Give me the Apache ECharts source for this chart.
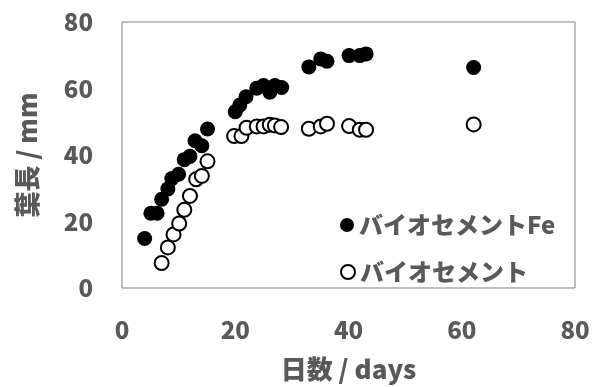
<!DOCTYPE html>
<html><head><meta charset="utf-8">
<script src="https://cdn.jsdelivr.net/npm/echarts@6/dist/echarts.min.js"></script>
<style>html,body{margin:0;padding:0;background:#fff}#c{width:598px;height:387px}</style>
</head><body><div id="c"></div>
<script>
const feDays = [4.0, 5.1, 6.2, 7.0, 8.1, 8.8, 10.0, 11.0, 12.0, 12.9, 14.1, 15.1, 20.0, 20.8, 21.9, 23.8, 25.0, 26.1, 27.0, 28.2, 33.0, 35.1, 36.2, 40.1, 42.0, 43.1, 62.1];
const feLen  = [14.9, 22.5, 22.5, 26.7, 29.8, 32.9, 34.2, 38.6, 39.6, 44.3, 42.8, 47.8, 53.0, 55.0, 57.5, 60.1, 60.9, 58.9, 60.9, 60.3, 66.5, 68.9, 68.2, 69.9, 69.9, 70.4, 66.3];
const bioDays = [7.0, 8.1, 9.1, 10.1, 11.0, 12.0, 13.1, 14.1, 15.1, 19.8, 21.1, 22.0, 23.8, 25.0, 26.1, 27.0, 28.1, 33.0, 35.1, 36.2, 40.1, 42.0, 43.1, 62.1];
const bioLen  = [7.5, 12.2, 16.1, 19.4, 23.5, 27.7, 32.7, 33.7, 38.1, 45.7, 45.7, 48.2, 48.6, 48.6, 49.1, 48.9, 48.4, 47.9, 48.6, 49.4, 48.7, 47.6, 47.6, 49.2];
const seriesNames = ['バイオセメントFe', 'バイオセメント'];
const xTitle = '日数 / days';
const yTitle = '葉長 / mm';

const pair = (xs, ys) => xs.map((x, i) => [x, ys[i]]);
const FONT = '"Noto Sans CJK JP", "Noto Sans", sans-serif';
const TXT = '#595959';
const W = 900;

const chart = echarts.init(document.getElementById('c'), null, {renderer: 'canvas'});
chart.setOption({
  animation: false,
  backgroundColor: '#fff',
  textStyle: {fontFamily: FONT},
  grid: {left: 122, right: 23, top: 22, bottom: 92, show: true, borderColor: '#808080', borderWidth: 1, backgroundColor: 'transparent'},
  xAxis: {
    type: 'value', min: 0, max: 80, interval: 20,
    name: xTitle, nameLocation: 'middle', nameGap: 68,
    nameTextStyle: {fontSize: 26, fontWeight: W, color: TXT, fontFamily: FONT},
    axisLine: {show: false}, axisTick: {show: false}, splitLine: {show: false},
    axisLabel: {fontSize: 24, fontWeight: W, color: TXT, margin: 30, fontFamily: FONT}
  },
  yAxis: {
    type: 'value', min: 0, max: 80, interval: 20,
    name: yTitle, nameLocation: 'middle', nameGap: 82, nameRotate: 90,
    nameTextStyle: {fontSize: 26, fontWeight: W, color: TXT, fontFamily: FONT},
    axisLine: {show: false}, axisTick: {show: false}, splitLine: {show: false},
    axisLabel: {fontSize: 24, fontWeight: W, color: TXT, margin: 29, fontFamily: FONT}
  },
  legend: [
    {data: [seriesNames[0]], left: 335, top: 208, itemWidth: 14, itemHeight: 14, itemGap: 4,
     textStyle: {fontSize: 24, fontWeight: W, color: TXT, fontFamily: FONT}},
    {data: [seriesNames[1]], left: 335, top: 255, itemWidth: 14, itemHeight: 14, itemGap: 4,
     textStyle: {fontSize: 24, fontWeight: W, color: TXT, fontFamily: FONT}}
  ],
  series: [
    {name: seriesNames[0], type: 'scatter', symbol: 'circle', symbolSize: 15,
     itemStyle: {color: '#000', borderColor: '#000', borderWidth: 0, opacity: 1},
     data: pair(feDays, feLen)},
    {name: seriesNames[1], type: 'scatter', symbol: 'circle', symbolSize: 14,
     itemStyle: {color: '#fff', borderColor: '#000', borderWidth: 2, opacity: 1},
     data: pair(bioDays, bioLen)}
  ]
});
</script></body></html>
